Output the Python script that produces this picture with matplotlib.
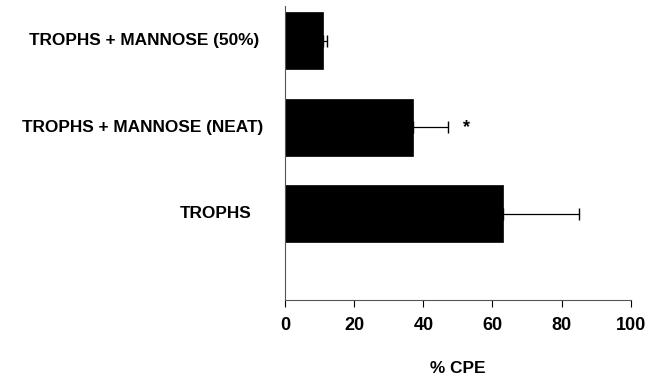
import matplotlib
matplotlib.use("Agg")
import matplotlib.pyplot as plt
import matplotlib.transforms as mtransforms

categories = ["TROPHS", "TROPHS + MANNOSE (NEAT)", "TROPHS + MANNOSE (50%)"]
values = [63, 37, 11]
errors = [22, 10, 1]
xticks = [0, 20, 40, 60, 80, 100]
xlabel = "% CPE"
sig_marker = "*"
sig_category = 1
sig_x = 52.5

plt.rcParams['font.family'] = ['Liberation Sans', 'DejaVu Sans']

fig = plt.figure(figsize=(6.53, 3.83), dpi=100)
ax = fig.add_axes([0.4365, 0.2167, 0.5295, 0.767])

ypos = list(range(len(categories)))
ax.barh(ypos, values, height=0.66, color='black', edgecolor='black', linewidth=0.5)
ax.errorbar(values, ypos, xerr=[[0]*len(errors), errors], fmt='none',
            ecolor='black', elinewidth=0.9, capsize=4, capthick=1.0)

ax.text(sig_x, sig_category, sig_marker, ha='center', va='center',
        fontsize=13, fontweight='bold')

ax.set_xlim(0, 100)
ax.set_ylim(-1, 2.4)
ax.set_xticks(xticks)
ax.set_xticklabels([str(t) for t in xticks], fontsize=13, fontweight='bold')
ax.tick_params(axis='x', direction='out', length=5, width=0.8, pad=7)
ax.set_yticks([])

trans = mtransforms.blended_transform_factory(fig.transFigure, ax.transData)
label_right = [252/653, 263/653, 259/653]
for y, lab, xr in zip(ypos, categories, label_right):
    ax.text(xr, y, lab, transform=trans, ha='right', va='center',
            fontsize=12.4, fontweight='bold')

ax.set_xlabel(xlabel, fontsize=12.4, fontweight='bold', labelpad=20)

for s in ['top', 'right']:
    ax.spines[s].set_visible(False)
for s in ['left', 'bottom']:
    ax.spines[s].set_linewidth(0.8)
    ax.spines[s].set_color('#555555')

fig.savefig("out.png", dpi=100)
